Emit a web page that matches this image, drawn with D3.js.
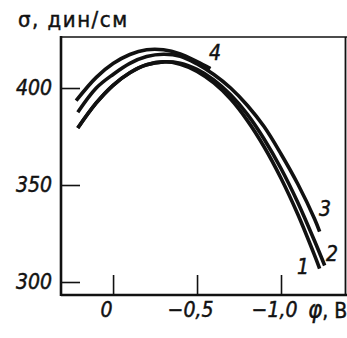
<!DOCTYPE html>
<html lang="ru">
<head>
    <meta charset="UTF-8">
    <title>Electrocapillary curves</title>
    <script src="https://cdn.jsdelivr.net/npm/d3@7"></script>
    <style>
        body {
            margin: 0;
            padding: 0;
            background: #fff;
        }

        text {
            fill: #111;
            stroke: #111;
            stroke-width: 0.45px;
        }

        .tick-label {
            font-family: "DejaVu Sans Condensed", "DejaVu Sans", sans-serif;
            font-style: italic;
            font-size: 21px;
        }
    </style>
</head>
<body>
<svg width="347" height="338" id="mainsvg"></svg>
<script>
    // potential, V
    const phi4 = [0.22, 0.1, 0, -0.1, -0.2, -0.3, -0.4, -0.5, -0.58];
    const sigma4 = [393.5, 405.5, 412.6, 417.3, 419.7, 419.7, 417.6, 413.6, 410];

    const phi3 = [0.21, 0.1, 0, -0.1, -0.2, -0.3, -0.4, -0.5, -0.6, -0.7, -0.8, -0.9, -1.0, -1.1, -1.2, -1.23];
    const sigma3 = [387.5, 400, 407, 412.7, 416.2, 417.4, 416.4, 412.4, 407, 400, 391, 380, 366, 350.5, 332.5, 326];

    const phi2 = [0.21, 0.1, 0, -0.1, -0.2, -0.3, -0.4, -0.5, -0.6, -0.7, -0.8, -0.9, -1.0, -1.1, -1.2, -1.26];
    const sigma2 = [379.4, 392.3, 401.4, 407.9, 412, 413.5, 412.8, 409.6, 404.2, 396.5, 386.4, 373.6, 358.5, 341, 321.1, 308.5];

    const phi1 = [0.21, 0.1, 0, -0.1, -0.2, -0.3, -0.4, -0.5, -0.6, -0.7, -0.8, -0.9, -1.0, -1.1, -1.2, -1.23];
    const sigma1 = [379.4, 392.3, 401.4, 407.9, 412, 413.5, 412.3, 408.6, 402.6, 394.3, 383.2, 369.6, 353.5, 334.9, 313.7, 306.9];

    const curveNames = ["1", "2", "3", "4"];
    const xTicks = [0, -0.5, -1.0];
    const xTickLabels = ["0", "\u22120,5", "\u22121,0"];
    const yTicks = [300, 350, 400];

    const svg = d3.select("#mainsvg");
    const frameL = 61, frameR = 345.5, frameT = 37, frameB = 295;

    let x = d3.scaleLinear().domain([0.31, -1.387]).range([61, 346]);
    let y = d3.scaleLinear().domain([293.3, 426.3]).range([295, 37]);

    // frame
    svg.append("line").attr("x1", frameL).attr("x2", frameL).attr("y1", frameT - 1).attr("y2", frameB + 1)
        .attr("stroke", "#111").attr("stroke-width", 2.6);
    svg.append("line").attr("x1", frameL).attr("x2", 347).attr("y1", frameB).attr("y2", frameB)
        .attr("stroke", "#111").attr("stroke-width", 2.6);
    svg.append("line").attr("x1", frameL).attr("x2", 347).attr("y1", frameT).attr("y2", frameT)
        .attr("stroke", "#111").attr("stroke-width", 1.6);
    svg.append("line").attr("x1", frameR).attr("x2", frameR).attr("y1", frameT).attr("y2", frameB)
        .attr("stroke", "#111").attr("stroke-width", 1.8);

    // axes, ticks pointing inward
    let yAxis = svg.append("g")
        .attr("transform", "translate(" + frameL + ",0)")
        .call(d3.axisLeft(y).tickValues(yTicks).tickSizeInner(-19).tickSizeOuter(0).tickPadding(9));
    let xAxis = svg.append("g")
        .attr("transform", "translate(0," + frameB + ")")
        .call(d3.axisBottom(x).tickValues(xTicks).tickSizeInner(-20).tickSizeOuter(0).tickPadding(7)
            .tickFormat((d, i) => xTickLabels[i]));
    [yAxis, xAxis].forEach(a => {
        a.select(".domain").remove();
        a.selectAll(".tick line").attr("stroke", "#111").attr("stroke-width", 1.6);
        a.selectAll(".tick text")
            .attr("class", "tick-label")
            .attr("fill", "#111");
    });
    xAxis.selectAll(".tick text").attr("dx", -7);

    // curves
    let line = d3.line()
        .x(d => x(d[0]))
        .y(d => y(d[1]))
        .curve(d3.curveCatmullRom.alpha(0.5));

    let series = [
        d3.zip(phi1, sigma1),
        d3.zip(phi2, sigma2),
        d3.zip(phi3, sigma3),
        d3.zip(phi4, sigma4)
    ];
    for (let i = 0; i < series.length; ++i) {
        svg.append("path")
            .attr("d", line(series[i]))
            .attr("fill", "none")
            .attr("stroke", "#111")
            .attr("stroke-width", 3.6);
    }

    // curve numbers, near the ends
    let labelPos = [[303, 274], [332, 261], [325, 216], [215, 60]];
    for (let i = 0; i < curveNames.length; ++i) {
        svg.append("text")
            .attr("class", "tick-label")
            .attr("x", labelPos[i][0])
            .attr("y", labelPos[i][1])
            .attr("text-anchor", "middle")
            .text(curveNames[i]);
    }

    // axis titles
    svg.append("text")
        .attr("x", 18)
        .attr("y", 27)
        .attr("font-family", "DejaVu Sans Condensed, DejaVu Sans, sans-serif")
        .attr("font-size", 22)
        .attr("letter-spacing", 1.5)
        .text("\u03c3, дин/см");

    let xt = svg.append("text")
        .attr("x", 308)
        .attr("y", 318)
        .attr("font-family", "DejaVu Sans Condensed, DejaVu Sans, sans-serif")
        .attr("font-size", 21);
    xt.append("tspan").attr("font-style", "italic").attr("font-size", 24).text("\u03c6");
    xt.append("tspan").text(", B");
</script>
</body>
</html>
